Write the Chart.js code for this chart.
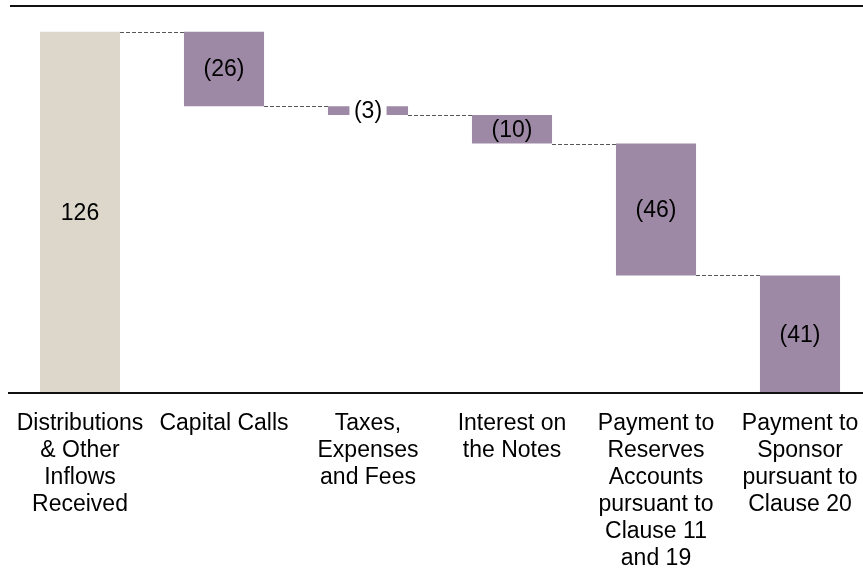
<!DOCTYPE html>
<html>
<head>
<meta charset="utf-8">
<script src="https://cdn.jsdelivr.net/npm/chart.js@4/dist/chart.umd.min.js"></script>
<style>
  html, body { margin: 0; padding: 0; background: #fff; overflow: hidden; }
  #wrap { width: 863px; height: 579px; overflow: hidden; }
</style>
</head>
<body>
<div id="wrap"><canvas id="waterfall" width="872" height="579" style="width:872px;height:579px"></canvas></div>
<script>
// dữ liệu
const categories = [
  ['Distributions', '& Other', 'Inflows', 'Received'],
  ['Capital Calls'],
  ['Taxes,', 'Expenses', 'and Fees'],
  ['Interest on', 'the Notes'],
  ['Payment to', 'Reserves', 'Accounts', 'pursuant to', 'Clause 11', 'and 19'],
  ['Payment to', 'Sponsor', 'pursuant to', 'Clause 20']
];
const values = [126, -26, -3, -10, -46, -41];
const valueLabels = ['126', '(26)', '(3)', '(10)', '(46)', '(41)'];
const barColors = ['#ddd6cb', '#9d89a5', '#9d89a5', '#9d89a5', '#9d89a5', '#9d89a5'];

// tính các đoạn nổi cho waterfall
const ranges = [];
let running = 0;
values.forEach(function(v) {
  const start = running;
  running += v;
  ranges.push([Math.min(start, running), Math.max(start, running)]);
});
const tops = [];
running = 0;
values.forEach(function(v) { running += v; tops.push(running); });

const FONT = '"Liberation Sans", Arial, sans-serif';

const waterfallPlugin = {
  id: 'waterfallExtras',
  afterDatasetsDraw(chart) {
    const ctx = chart.ctx;
    const area = chart.chartArea;
    const y = chart.scales.y;
    const bars = chart.getDatasetMeta(0).data;

    // đường nối nét đứt
    ctx.save();
    ctx.strokeStyle = '#555';
    ctx.lineWidth = 1;
    ctx.setLineDash([4, 2]);
    for (let i = 0; i < bars.length - 1; i++) {
      const yy = Math.round(y.getPixelForValue(tops[i])) + 0.5;
      ctx.beginPath();
      ctx.moveTo(bars[i].x + bars[i].width / 2, yy);
      ctx.lineTo(bars[i + 1].x - bars[i + 1].width / 2, yy);
      ctx.stroke();
    }
    ctx.restore();

    // nhãn giá trị
    ctx.save();
    ctx.font = '23px ' + FONT;
    ctx.textAlign = 'center';
    ctx.textBaseline = 'middle';
    bars.forEach(function(bar, i) {
      const cy = (bar.y + bar.base) / 2;
      const txt = valueLabels[i];
      if (Math.abs(bar.base - bar.y) < 20) {
        const w = ctx.measureText(txt).width + 9;
        ctx.fillStyle = '#fff';
        ctx.fillRect(bar.x - w / 2, cy - 12, w, 24);
      }
      ctx.fillStyle = '#000';
      ctx.fillText(txt, bar.x, cy + 1);
    });
    ctx.restore();

    // đường trên cùng và trục hoành
    ctx.save();
    ctx.strokeStyle = '#111';
    ctx.lineWidth = 2;
    ctx.beginPath();
    ctx.moveTo(10, 6);
    ctx.lineTo(chart.width, 6);
    ctx.stroke();
    ctx.beginPath();
    ctx.moveTo(8, area.bottom);
    ctx.lineTo(chart.width, area.bottom);
    ctx.stroke();
    ctx.restore();
  }
};

new Chart(document.getElementById('waterfall'), {
  type: 'bar',
  data: {
    labels: categories,
    datasets: [{
      data: ranges,
      backgroundColor: barColors,
      borderWidth: 0,
      borderSkipped: false,
      barPercentage: 0.556,
      categoryPercentage: 1
    }]
  },
  options: {
    responsive: false,
    animation: false,
    layout: { padding: { left: 8, right: 0, top: 6, bottom: 0 } },
    plugins: { legend: { display: false }, tooltip: { enabled: false } },
    scales: {
      x: {
        grid: { display: false, drawTicks: false },
        border: { display: false },
        afterFit: function(scale) {
          scale.height = 186;
          scale.paddingLeft = 0;
          scale.paddingRight = 0;
        },
        ticks: {
          color: '#000',
          font: { family: FONT, size: 23, lineHeight: 27 / 23 },
          padding: 17,
          maxRotation: 0,
          minRotation: 0,
          autoSkip: false
        }
      },
      y: {
        display: false,
        min: 0,
        max: 135
      }
    }
  },
  plugins: [waterfallPlugin]
});
</script>
</body>
</html>
